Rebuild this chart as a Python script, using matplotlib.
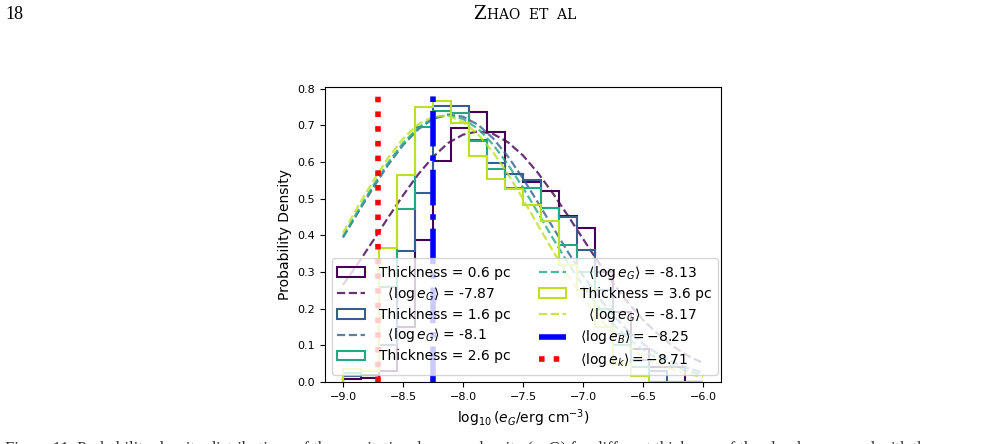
import numpy as np
import matplotlib
matplotlib.use('Agg')
import matplotlib.pyplot as plt

# bin edges of the histograms (log10 e_G)
edges = [-9.0, -8.85, -8.7, -8.55, -8.4, -8.25, -8.1, -7.95, -7.8, -7.65, -7.5,
         -7.35, -7.2, -7.05, -6.9, -6.75, -6.6, -6.45, -6.3, -6.15, -6.0]

# probability density per bin
dens_06 = [0.008, 0.010, 0.030, 0.150, 0.388, 0.602, 0.693, 0.737, 0.681, 0.567,
           0.547, 0.520, 0.452, 0.420, 0.300, 0.190, 0.090, 0.040, 0.040, 0.0]
dens_16 = [0.015, 0.020, 0.100, 0.356, 0.515, 0.754, 0.754, 0.659, 0.597, 0.567,
           0.550, 0.475, 0.450, 0.360, 0.250, 0.130, 0.060, 0.030, 0.0, 0.0]
dens_26 = [0.025, 0.030, 0.260, 0.472, 0.697, 0.739, 0.734, 0.657, 0.581, 0.530,
           0.530, 0.475, 0.374, 0.300, 0.200, 0.100, 0.040, 0.0, 0.0, 0.0]
dens_36 = [0.035, 0.030, 0.365, 0.564, 0.750, 0.768, 0.707, 0.617, 0.555, 0.527,
           0.484, 0.438, 0.320, 0.250, 0.150, 0.050, 0.015, 0.0, 0.0, 0.0]

# fitted curves (dashed), sampled from the figure
fit_x = [-9.0, -8.875, -8.75, -8.625, -8.5, -8.375, -8.25, -8.125, -8.0, -7.875,
         -7.75, -7.625, -7.5, -7.375, -7.25, -7.125, -7.0, -6.875, -6.75, -6.625,
         -6.5, -6.375, -6.25, -6.125, -6.0]
fit_06 = [0.265, 0.323, 0.385, 0.448, 0.509, 0.566, 0.614, 0.652, 0.675, 0.684,
          0.677, 0.654, 0.618, 0.570, 0.514, 0.453, 0.390, 0.328, 0.269, 0.216,
          0.169, 0.130, 0.097, 0.071, 0.051]
fit_16 = [0.394, 0.462, 0.529, 0.592, 0.646, 0.689, 0.718, 0.730, 0.724, 0.702,
          0.665, 0.615, 0.555, 0.489, 0.421, 0.354, 0.290, 0.233, 0.182, 0.139,
          0.104, 0.076, 0.054, 0.037, 0.025]
fit_26 = [0.397, 0.467, 0.535, 0.598, 0.652, 0.694, 0.720, 0.728, 0.718, 0.691,
          0.648, 0.593, 0.530, 0.461, 0.391, 0.324, 0.262, 0.206, 0.158, 0.119,
          0.087, 0.062, 0.043, 0.029, 0.019]
fit_36 = [0.407, 0.479, 0.548, 0.611, 0.664, 0.703, 0.724, 0.727, 0.710, 0.676,
          0.627, 0.567, 0.499, 0.427, 0.357, 0.290, 0.230, 0.177, 0.133, 0.097,
          0.069, 0.048, 0.033, 0.021, 0.014]

thickness = ['0.6', '1.6', '2.6', '3.6']
mean_eG = ['-7.87', '-8.1', '-8.13', '-8.17']
mean_eB = -8.25
mean_ek = -8.71

dens_all = [dens_06, dens_16, dens_26, dens_36]
fit_all = [fit_06, fit_16, fit_26, fit_36]
colors = plt.cm.viridis([0.0, 0.3, 0.6, 0.9])

fig = plt.figure(figsize=(10.03, 4.44), dpi=100)
ax = fig.add_axes([0.324, 0.14, 0.395, 0.664])

for i in range(4):
    # step histogram, bin heights given as weights
    ax.hist(edges[:-1], bins=edges, weights=dens_all[i], histtype='step',
            color=colors[i], lw=1.5, label=f'Thickness = {thickness[i]} pc')
    ax.plot(fit_x, fit_all[i], '--', color=colors[i], lw=1.6, alpha=0.8,
            label=r'  $\langle\log e_G\rangle$ = ' + mean_eG[i])

ax.axvline(mean_eB, color='blue', lw=4, ls='-.',
           label=r'$\langle\log e_B\rangle = %.2f$' % mean_eB)
ax.axvline(mean_ek, color='red', lw=4, ls=':',
           label=r'$\langle\log e_k\rangle = %.2f$' % mean_ek)

ax.set_xlim(-9.15, -5.85)
ax.set_ylim(0, 0.805)
ax.tick_params(labelsize=8)
ax.set_xlabel(r'$\log_{10}(e_G/\mathrm{erg\ cm^{-3}})$', fontsize=10)
ax.set_ylabel('Probability Density', fontsize=10)
ax.legend(loc='lower left', ncol=2, fontsize=10, framealpha=0.8,
          labelspacing=0.35, handletextpad=1.0)

# page header and caption
fig.text(0.005, 0.957, '18', family='Liberation Serif', fontsize=13, va='baseline')
fig.text(0.4715, 0.957, 'Z', family='DejaVu Serif', fontsize=13, va='baseline')
fig.text(0.4855, 0.957, 'HAO  ET  AL', family='DejaVu Serif', fontsize=10, va='baseline')
fig.text(0.005, 0.0068,
         'Figure 11. Probability density distributions of the gravitational energy density (e_G) '
         'for different thickness of the cloud, compared with the',
         family='Liberation Serif', fontsize=12, va='top', color='#333333')

fig.savefig('out.png', dpi=100)
